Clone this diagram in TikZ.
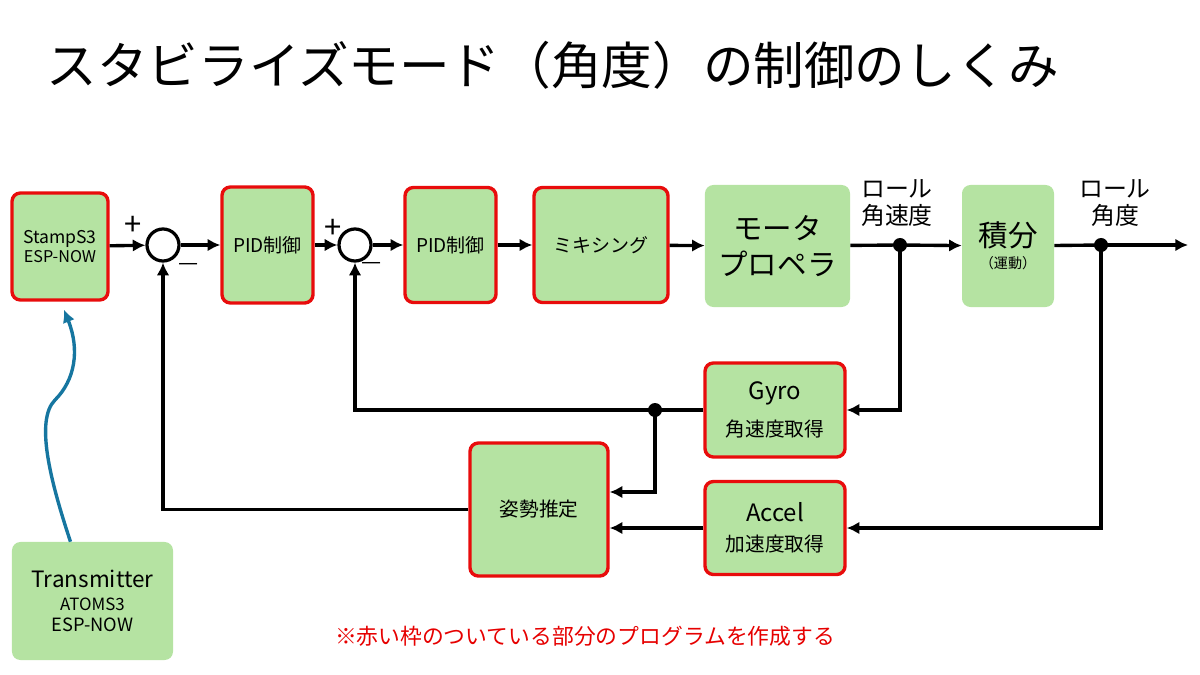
\documentclass[tikz,border=0pt]{standalone}
\usepackage{fontspec}
\setmainfont{Noto Sans CJK JP}
\usetikzlibrary{arrows.meta}
\definecolor{boxgreen}{RGB}{181,227,162}
\definecolor{framered}{RGB}{232,12,12}
\definecolor{notered}{RGB}{230,0,0}
\definecolor{linkblue}{RGB}{22,118,160}
\newcommand{\fs}[1]{\fontsize{#1}{1.2\dimexpr#1pt\relax}\selectfont}

\begin{document}
\begin{tikzpicture}[x=0.025cm, y=-0.025cm,
		redbox/.style={draw=framered, line width=2.4pt, fill=boxgreen, rounded corners=6pt, align=center, inner sep=0pt},
		plainbox/.style={fill=boxgreen, rounded corners=6pt, align=center, inner sep=0pt},
		sumpt/.style={shape=circle, draw=black, line width=2.3pt, minimum size=0.8cm, inner sep=0pt},
		junct/.style={shape=circle, fill=black, minimum size=0.35cm, inner sep=0pt},
		sig/.style={line width=2.4pt, -{Latex[length=9pt, width=9pt]}},
		wire/.style={line width=2.4pt}]
			\useasboundingbox (0,0) rectangle (1200,675);
			
			\node (title) at (553,65) {\fs{36}スタビライズモード（角度）の制御のしくみ};
			
			\node[redbox, minimum width=2.4cm, minimum height=2.675cm] (stamp) at (60,246.5) {\fs{12.5}StampS3\\[2pt]\fs{11.5}ESP-NOW};
			\node[sumpt] (sum1) at (163,245) {};
			\node[redbox, minimum width=2.275cm, minimum height=2.9cm] (pid1) at (267.5,245) {\fs{13.5}PID制御};
			\node[sumpt] (sum2) at (355,245) {};
			\node[redbox, minimum width=2.275cm, minimum height=2.875cm] (pid2) at (450.5,245) {\fs{13.5}PID制御};
			\node[redbox, minimum width=3.35cm, minimum height=2.875cm] (mix) at (601,245) {\fs{13.5}ミキシング};
			\node[plainbox, minimum width=3.625cm, minimum height=3.05cm] (motor) at (777.5,246) {\fs{21}モータ\\[6pt]\fs{21}プロペラ};
			\node[plainbox, minimum width=2.3cm, minimum height=3.05cm] (integ) at (1008,246) {\fs{21}積分\\[4pt]\fs{10}（運動）};
			\node[redbox, minimum width=3.5cm, minimum height=2.35cm] (gyro) at (775,410) {\fs{17}Gyro\\[9pt]\fs{14}角速度取得};
			\node[redbox, minimum width=3.5cm, minimum height=2.325cm] (accel) at (775,528) {\fs{17}Accel\\[9pt]\fs{14}加速度取得};
			\node[redbox, minimum width=3.45cm, minimum height=3.325cm] (est) at (539,509.5) {\fs{14}姿勢推定};
			\node[plainbox, minimum width=4.025cm, minimum height=2.95cm] (trans) at (92.5,601) {\fs{16}Transmitter\\[4pt]\fs{12}ATOMS3\\[3pt]\fs{13}ESP-NOW};
			
			\node (plus1) at (133,226) {\fs{22}+};
			\node (minus1) at (189,267) {\fs{16}—};
			\node (plus2) at (333,229) {\fs{22}+};
			\node (minus2) at (372,266) {\fs{16}—};
			\node[align=center] (ratelbl) at (897,203) {\fs{17}ロール\\[4pt]\fs{17}角速度};
			\node[align=center] (anglelbl) at (1115,203) {\fs{17}ロール\\[4pt]\fs{17}角度};
			\node (note) at (585,636) {\fs{15.5}\color{notered}※赤い枠のついている部分のプログラムを作成する};
			
			\node[junct] (rate) at (900,245) {};
			\node[junct] (angle) at (1101,245) {};
			\node[junct] (tap) at (655,410) {};
			\coordinate (bend) at (655,492);
			\coordinate (out) at (1188,245);
			
			% forward path
			\draw[sig] (stamp) -- (sum1);
			\draw[sig] (sum1) -- (pid1);
			\draw[sig] (pid1) -- (sum2);
			\draw[sig] (sum2) -- (pid2);
			\draw[sig] (pid2) -- (mix);
			\draw[sig] (mix) -- (motor);
			\draw[wire] (motor) -- (rate.center);
			\draw[sig] (rate.center) -- (integ);
			\draw[wire] (integ) -- (angle.center);
			\draw[sig] (angle.center) -- (out);
			
			% sensors
			\draw[sig] (rate.center) |- (gyro.east);
			\draw[sig] (angle.center) |- (accel.east);
			
			% feedback
			\draw[wire] (gyro.west) -- (tap.center);
			\draw[sig] (tap.center) -| (sum2.south);
			\draw[sig] (tap.center) -- (bend) -- (est.east |- bend);
			\draw[sig] (accel.west) -- (est.east |- accel.west);
			\draw[sig] (est.west) -| (sum1.south);
			
			% radio link
			\draw[linkblue, line width=2.4pt, -{Latex[length=9pt, width=9pt]}] ([xshift=-0.55cm]trans.north) .. controls (50,480) and (35,420) .. (55,400) .. controls (75,380) and (80,350) .. ([xshift=0.1cm, yshift=-0.2cm]stamp.south);
\end{tikzpicture}
\end{document}
